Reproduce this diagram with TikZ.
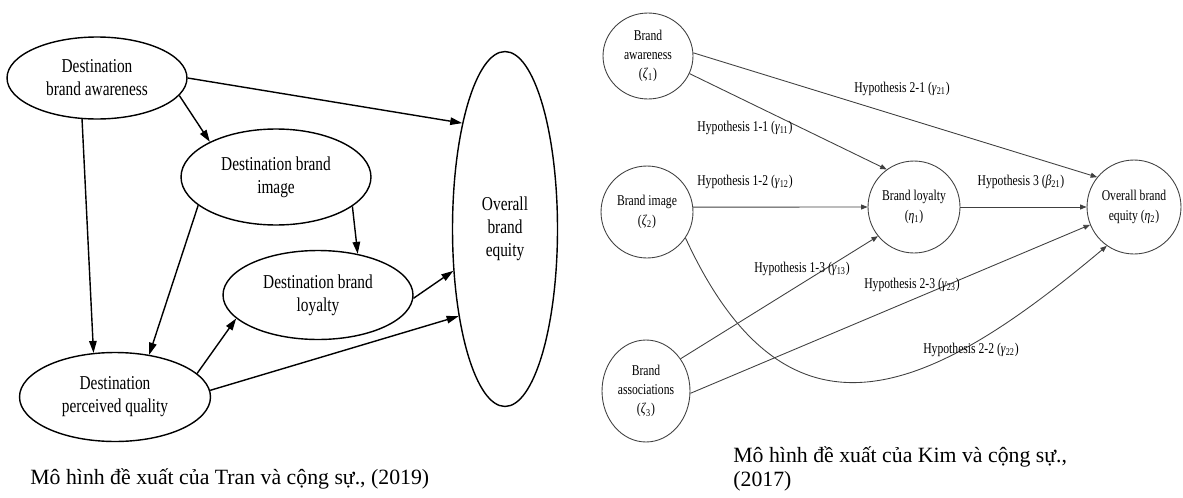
\documentclass[tikz,border=0pt]{standalone}
\usepackage{fontspec}
\setmainfont{Liberation Serif}
\newfontfamily\narrowfont[FakeStretch=0.78]{Liberation Serif}
\usetikzlibrary{shapes.geometric, arrows.meta, positioning}

\newcommand{\gsub}[2]{(\textit{#1}\textsubscript{#2})}

\begin{document}
\begin{tikzpicture}[
    x=0.02cm, y=-0.02cm,
    construct/.style={ellipse, draw, line width=0.8pt, fill=white, inner sep=0pt, align=center, font=\narrowfont\fontsize{11.2}{13.1}\selectfont},
    latent/.style={ellipse, draw=black!75, line width=0.5pt, inner sep=0pt, align=center, font=\narrowfont\fontsize{8.5}{11}\selectfont},
    link/.style={line width=0.8pt, -{Triangle[length=0.24cm, width=0.15cm]}},
    hyplink/.style={draw=black!75, line width=0.5pt, -{Triangle[length=0.13cm, width=0.1cm]}},
    hyp/.style={font=\narrowfont\fontsize{8.5}{11}\selectfont, inner sep=0pt},
    figcaption/.style={font=\fontsize{12.4}{13.4}\selectfont, anchor=west, inner sep=0pt, align=left}
]
\useasboundingbox (0,0) rectangle (1183,497);

% Tran et al. (2019)
\node[construct, minimum width=3.6cm, minimum height=1.64cm] (awareness) at (97,78) {Destination\\brand awareness};
\node[construct, minimum width=3.8cm, minimum height=1.92cm] (image) at (276,177) {Destination brand\\image};
\node[construct, minimum width=3.8cm, minimum height=1.78cm] (loyalty) at (318,295) {Destination brand\\loyalty};
\node[construct, minimum width=3.82cm, minimum height=1.78cm] (quality) at (115,397) {Destination\\perceived quality};
\node[construct, minimum width=2.1cm, minimum height=7.1cm] (overall) at (505,229) {Overall\\brand\\equity};

\draw[link] (awareness.0) -- (overall.112);
\draw[link] (awareness.-12) -- (image.152);
\draw[link] (awareness.250) -- (quality.116);
\draw[link] (image.200) -- (quality.51);
\draw[link] (image.-21) -- (loyalty.46);
\draw[link] (quality.16) -- (loyalty.196);
\draw[link] (loyalty.-2) -- (overall.219);
\draw[link] (quality.4) -- (overall.242);

\node[figcaption] (trancap) at (30,479) {Mô hình đề xuất của Tran và cộng sự., (2019)};

% Kim et al. (2017)
\node[latent, minimum width=1.8cm, minimum height=1.72cm] (kawareness) at (648,56) {Brand\\awareness\\\gsub{ζ}{1}};
\node[latent, minimum width=1.84cm, minimum height=1.84cm] (kimage) at (647,212) {Brand image\\\gsub{ζ}{2}};
\node[latent, minimum width=1.76cm, minimum height=2.04cm] (kassoc) at (646,391) {Brand\\associations\\\gsub{ζ}{3}};
\node[latent, minimum width=1.84cm, minimum height=1.84cm] (kloyalty) at (914,207) {Brand loyalty\\\gsub{η}{1}};
\node[latent, minimum width=1.88cm, minimum height=1.88cm] (kequity) at (1134,207) {Overall brand\\equity \gsub{η}{2}};

\draw[hyplink] (kawareness.4) -- (kequity.141);
\draw[hyplink] (kawareness.-23) -- (kloyalty.126);
\draw[hyplink] (kimage.6) -- (kloyalty.180);
\draw[hyplink] (kloyalty.0) -- (kequity.180);
\draw[hyplink] (kassoc.43) -- (kloyalty.219);
\draw[hyplink] (kassoc.-3) -- (kequity.202);
\draw[hyplink] (kimage.-34) .. controls (790,465) and (935,390) .. (kequity.235);

\node[hyp] (h21) at (902,89) {Hypothesis 2-1 \gsub{γ}{21}};
\node[hyp] (h11) at (745,128) {Hypothesis 1-1 \gsub{γ}{11}};
\node[hyp] (h12) at (745,182) {Hypothesis 1-2 \gsub{γ}{12}};
\node[hyp] (h3) at (1021,182) {Hypothesis 3 \gsub{β}{21}};
\node[hyp] (h13) at (802,269) {Hypothesis 1-3 \gsub{γ}{13}};
\node[hyp] (h23) at (912,285) {Hypothesis 2-3 \gsub{γ}{23}};
\node[hyp] (h22) at (971,350) {Hypothesis 2-2 \gsub{γ}{22}};

\node[figcaption] (kimcap) at (733,469) {Mô hình đề xuất của Kim và cộng sự.,\\(2017)};

\end{tikzpicture}
\end{document}
